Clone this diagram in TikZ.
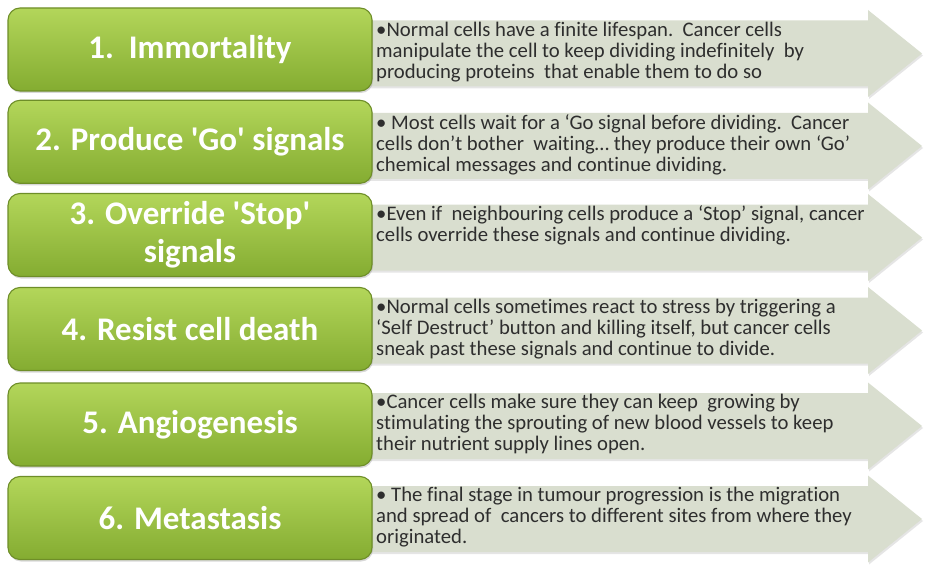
\documentclass[tikz,border=0pt]{standalone}
\usepackage{fontspec}
\setmainfont{Carlito}[Ligatures={NoCommon}]
\usepackage{tikz}
\usetikzlibrary{positioning,shadows}

\definecolor{stagetop}{HTML}{B3D65A}
\definecolor{stagebot}{HTML}{84AC31}
\definecolor{stageedge}{HTML}{6E8E28}
\definecolor{arrowfill}{HTML}{D9DECF}
\definecolor{bodytext}{HTML}{2E2E2E}

\begin{document}
\begin{tikzpicture}[x=1pt,y=-1pt]
                \tikzstyle{stage}=[rectangle, rounded corners=12pt, draw=stageedge, line width=1.1pt, top color=stagetop, bottom color=stagebot, minimum width=364pt, minimum height=83pt, text=white, align=center, font=\fontsize{33}{38}\selectfont\bfseries, drop shadow={opacity=0.3, shadow xshift=1pt, shadow yshift=-2pt}]
                \tikzstyle{stagearrow}=[fill=arrowfill, draw=none, drop shadow={opacity=0.2, shadow xshift=1pt, shadow yshift=-2pt}]
                \tikzstyle{bullets}=[anchor=north west, inner sep=0pt, align=left, text=bodytext, font=\fontsize{20.7}{21}\selectfont]

                \useasboundingbox[fill=white] (0,0) rectangle (940,567);

                % grey arrows behind the stages
                \coordinate (arr1) at (365,53.5);
                \coordinate (arr2) at (365,146);
                \coordinate (arr3) at (365,237.5);
                \coordinate (arr4) at (365,330.5);
                \coordinate (arr5) at (365,426);
                \coordinate (arr6) at (365,519);
                \fill[stagearrow] (arr1) ++(0,-33) -- ++(503,0) -- ++(0,-10.5) -- ++(54,43.5) -- ++(-54,43.5) -- ++(0,-10.5) -- ++(-503,0) -- cycle;
                \fill[stagearrow] (arr2) ++(0,-33) -- ++(503,0) -- ++(0,-10.5) -- ++(54,43.5) -- ++(-54,43.5) -- ++(0,-10.5) -- ++(-503,0) -- cycle;
                \fill[stagearrow] (arr3) ++(0,-33) -- ++(503,0) -- ++(0,-10.5) -- ++(54,43.5) -- ++(-54,43.5) -- ++(0,-10.5) -- ++(-503,0) -- cycle;
                \fill[stagearrow] (arr4) ++(0,-33) -- ++(503,0) -- ++(0,-10.5) -- ++(54,43.5) -- ++(-54,43.5) -- ++(0,-10.5) -- ++(-503,0) -- cycle;
                \fill[stagearrow] (arr5) ++(0,-33) -- ++(503,0) -- ++(0,-10.5) -- ++(54,43.5) -- ++(-54,43.5) -- ++(0,-10.5) -- ++(-503,0) -- cycle;
                \fill[stagearrow] (arr6) ++(0,-33) -- ++(503,0) -- ++(0,-10.5) -- ++(54,43.5) -- ++(-54,43.5) -- ++(0,-10.5) -- ++(-503,0) -- cycle;

                % green stages
                \node[stage] (immort) at (190,49.5) {1.\ \ Immortality};
                \node[stage] (gosig) at (190,141.8) {2. Produce \textquotesingle Go\textquotesingle\ signals};
                \node[stage] (stopsig) at (190,235) {3. Override \textquotesingle Stop\textquotesingle\\signals};
                \node[stage] (resist) at (190,329) {4. Resist cell death};
                \node[stage] (angio) at (190,424.5) {5. Angiogenesis};
                \node[stage] (metast) at (190,518) {6. Metastasis};

                % descriptions
                \node[bullets] (immort-txt) at (376,21.5) {•Normal cells have a finite lifespan.\ \ Cancer cells\\manipulate the cell to keep dividing indefinitely\ \ by\\producing proteins\ \ that enable them to do so};
                \node[bullets] (gosig-txt) at (376,114) {• Most cells wait for a ‘Go signal before dividing.\ \ Cancer\\cells don’t bother\ \ waiting… they produce their own ‘Go’\\chemical messages and continue dividing.};
                \node[bullets] (stopsig-txt) at (376,205.5) {•Even if\ \ neighbouring cells produce a ‘Stop’ signal, cancer\\cells override these signals and continue dividing.};
                \node[bullets] (resist-txt) at (376,298.5) {•Normal cells sometimes react to stress by triggering a\\‘Self Destruct’ button and killing itself, but cancer cells\\sneak past these signals and continue to divide.};
                \node[bullets] (angio-txt) at (376,394) {•Cancer cells make sure they can keep\ \ growing by\\stimulating the sprouting of new blood vessels to keep\\their nutrient supply lines open.};
                \node[bullets] (metast-txt) at (376,487) {• The final stage in tumour progression is the migration\\and spread of\ \ cancers to different sites from where they\\originated.};
\end{tikzpicture}
\end{document}
